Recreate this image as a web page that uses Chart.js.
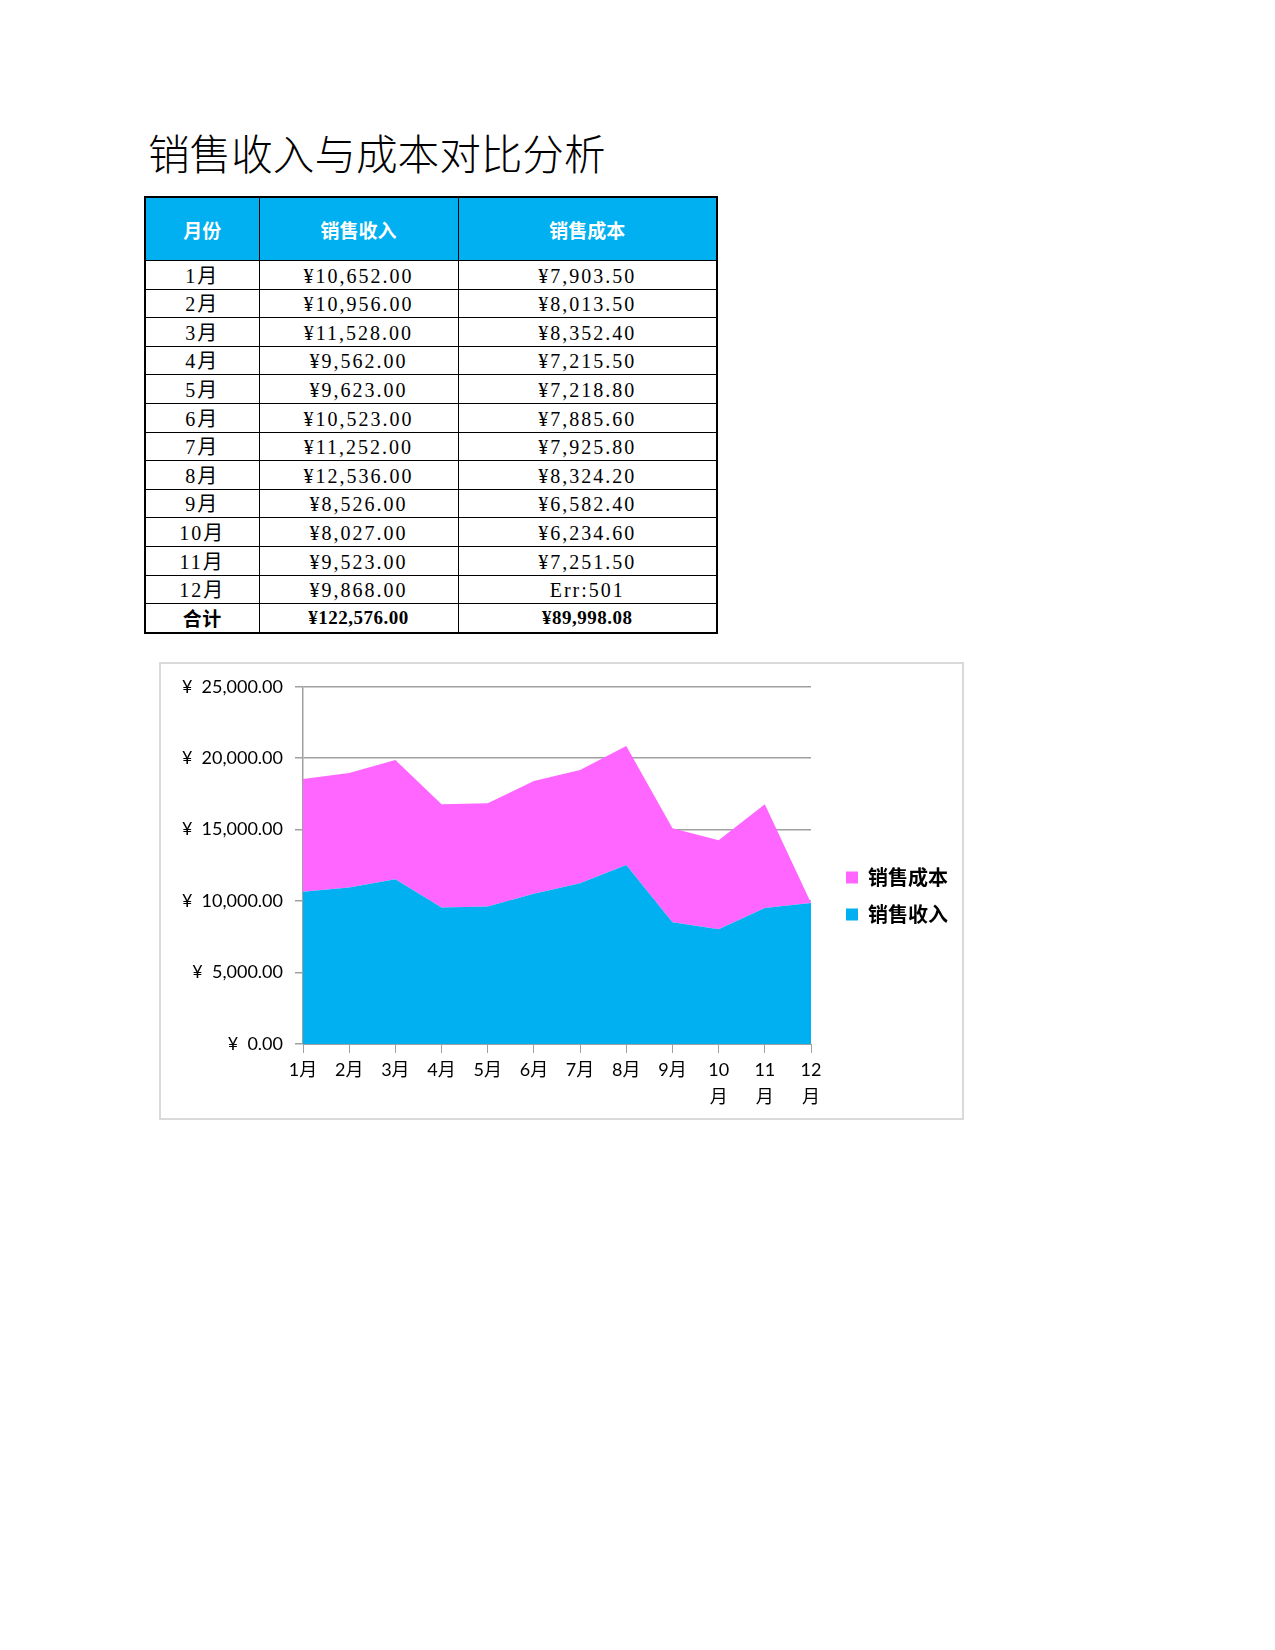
<!DOCTYPE html>
<html>
<head>
<meta charset="utf-8">
<script src="https://cdn.jsdelivr.net/npm/chart.js@4.4.1/dist/chart.umd.min.js"></script>
<style>
  body { margin: 0; background: #fff; width: 1275px; height: 1650px; position: relative; font-family: "Noto Sans CJK SC", sans-serif; }
  #title { position: absolute; left: 148px; top: 132px; font-size: 41.6px; line-height: 1; font-weight: 300; color: #000; white-space: nowrap; }
  #tbl { position: absolute; left: 144px; top: 196px; border-collapse: collapse; border: 2px solid #000; }
  #tbl th, #tbl td { border: 1.5px solid #000; text-align: center; padding: 0; }
  #tbl th { background: #00b0f0; color: #fff; height: 62px; font-size: 19px; font-weight: bold; }
  #tbl td { height: 27.6px; font-family: "Liberation Serif", "Noto Sans CJK SC", serif; font-size: 20px; letter-spacing: 2px; color: #000; line-height: 26px; vertical-align: bottom; }
  #tbl tr.total td { font-weight: bold; font-size: 19px; letter-spacing: 0.5px; vertical-align: middle; }
  #chartBox { position: absolute; left: 159px; top: 662px; width: 801px; height: 454px; border: 2px solid #d9d9d9; }
</style>
</head>
<body>
<div id="title">销售收入与成本对比分析</div>
<table id="tbl">
  <colgroup><col style="width:114px"><col style="width:199px"><col style="width:259px"></colgroup>
  <thead><tr><th>月份</th><th>销售收入</th><th>销售成本</th></tr></thead>
  <tbody id="tbody"></tbody>
</table>
<div id="chartBox"><canvas id="areaChart"></canvas></div>
<script>
  // ===== DATA =====
  const months = ["1月", "2月", "3月", "4月", "5月", "6月", "7月", "8月", "9月", "10月", "11月", "12月"];
  const revenue = [10652, 10956, 11528, 9562, 9623, 10523, 11252, 12536, 8526, 8027, 9523, 9868];
  // December cost is "Err:501" in the sheet, plotted as 0
  const costs = [7903.5, 8013.5, 8352.4, 7215.5, 7218.8, 7885.6, 7925.8, 8324.2, 6582.4, 6234.6, 7251.5, 0];
  const costText = ["¥7,903.50", "¥8,013.50", "¥8,352.40", "¥7,215.50", "¥7,218.80", "¥7,885.60",
                    "¥7,925.80", "¥8,324.20", "¥6,582.40", "¥6,234.60", "¥7,251.50", "Err:501"];
  const totalRevenue = "¥122,576.00";
  const totalCost = "¥89,998.08";
  const yTicks = [0, 5000, 10000, 15000, 20000, 25000];

  const fmt = n => n.toLocaleString("en-US", { minimumFractionDigits: 2, maximumFractionDigits: 2 });

  // ===== TABLE =====
  const tbody = document.getElementById("tbody");
  months.forEach((m, i) => {
    const tr = document.createElement("tr");
    tr.innerHTML = `<td>${m}</td><td>¥${fmt(revenue[i])}</td><td>${costText[i]}</td>`;
    tbody.appendChild(tr);
  });
  const totalRow = document.createElement("tr");
  totalRow.className = "total";
  totalRow.innerHTML = `<td style="font-family:'Noto Sans CJK SC'">合计</td><td>${totalRevenue}</td><td>${totalCost}</td>`;
  tbody.appendChild(totalRow);

  // ===== CHART =====
  // long labels wrap in the original, so split 10-12月 into two lines
  const xLabels = months.map(m => m.length > 2 ? [m.slice(0, -1), "月"] : m);
  const gridGray = "#a0a0a0";
  const tickFont = { family: "Lato, 'Noto Sans CJK SC'", size: 18 };

  new Chart(document.getElementById("areaChart"), {
    type: "line",
    data: {
      labels: xLabels,
      datasets: [
        { label: "销售收入", data: revenue, backgroundColor: "#00b0f0", borderWidth: 0, pointRadius: 0, fill: "origin", tension: 0 },
        { label: "销售成本", data: costs, backgroundColor: "#ff66ff", borderWidth: 0, pointRadius: 0, fill: "-1", tension: 0 }
      ]
    },
    options: {
      responsive: true,
      maintainAspectRatio: false,
      animation: false,
      layout: { padding: { top: 10, right: 4, bottom: 0, left: 0 } },
      plugins: {
        tooltip: { enabled: false },
        legend: {
          position: "right",
          reverse: true,
          labels: {
            boxWidth: 12, boxHeight: 12, padding: 17, color: "#000",
            font: { family: "'Noto Sans CJK SC'", size: 20, weight: "bold" }
          }
        }
      },
      scales: {
        x: {
          offset: false,
          grid: { drawOnChartArea: false, drawTicks: true, tickLength: 9, color: gridGray },
          border: { color: gridGray, width: 1 },
          ticks: { color: "#000", font: { ...tickFont, lineHeight: 1.5 }, maxRotation: 0, autoSkip: false, padding: 4 },
          afterFit: s => { s.height = 74; }
        },
        y: {
          stacked: true,
          min: 0, max: 25000,
          afterBuildTicks: s => { s.ticks = yTicks.map(v => ({ value: v })); },
          grid: { color: gridGray, lineWidth: 1.5, tickLength: 8 },
          border: { color: gridGray, width: 1.5 },
          ticks: { color: "#000", font: tickFont, padding: 12, callback: v => "¥  " + fmt(v) },
          afterFit: s => { s.width = 142; }
        },
        // empty spacer between plot and legend
        gap: {
          type: "linear", position: "right", display: true,
          grid: { display: false }, border: { display: false }, ticks: { display: false },
          afterFit: s => { s.width = 18; }
        }
      }
    }
  });
</script>
</body>
</html>
